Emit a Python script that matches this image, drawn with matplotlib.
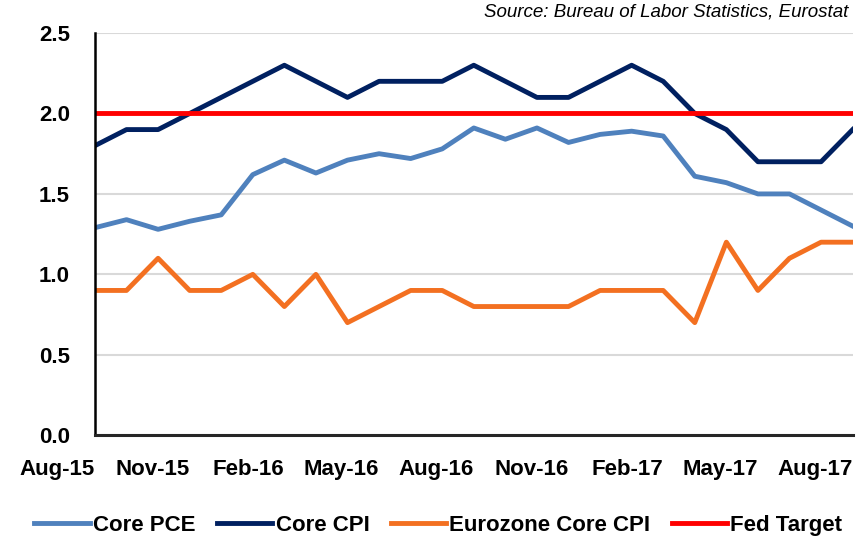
import numpy as np
import matplotlib.pyplot as plt

months = ['Aug-15', 'Sep-15', 'Oct-15', 'Nov-15', 'Dec-15', 'Jan-16', 'Feb-16',
          'Mar-16', 'Apr-16', 'May-16', 'Jun-16', 'Jul-16', 'Aug-16', 'Sep-16',
          'Oct-16', 'Nov-16', 'Dec-16', 'Jan-17', 'Feb-17', 'Mar-17', 'Apr-17',
          'May-17', 'Jun-17', 'Jul-17', 'Aug-17']

core_pce = [1.29, 1.34, 1.28, 1.33, 1.37, 1.62, 1.71, 1.63, 1.71, 1.75, 1.72,
            1.78, 1.91, 1.84, 1.91, 1.82, 1.87, 1.89, 1.86, 1.61, 1.57, 1.50,
            1.50, 1.40, 1.30]
core_cpi = [1.8, 1.9, 1.9, 2.0, 2.1, 2.2, 2.3, 2.2, 2.1, 2.2, 2.2, 2.2, 2.3,
            2.2, 2.1, 2.1, 2.2, 2.3, 2.2, 2.0, 1.9, 1.7, 1.7, 1.7, 1.9]
euro_core_cpi = [0.9, 0.9, 1.1, 0.9, 0.9, 1.0, 0.8, 1.0, 0.7, 0.8, 0.9, 0.9,
                 0.8, 0.8, 0.8, 0.8, 0.9, 0.9, 0.9, 0.7, 1.2, 0.9, 1.1, 1.2, 1.2]
fed_target = [2.0] * len(months)

x = np.arange(len(months))

fig = plt.figure(figsize=(8.63, 5.42), dpi=100)
ax = fig.add_axes([0.110, 0.197, 0.878, 0.742])

ax.plot(x, core_pce, color='#4F81BD', lw=3.5, label='Core PCE')
ax.plot(x, core_cpi, color='#002060', lw=3.5, label='Core CPI')
ax.plot(x, euro_core_cpi, color='#F37021', lw=3.5, label='Eurozone Core CPI')
ax.plot(x, fed_target, color='#FF0000', lw=3.5, label='Fed Target')

ax.set_xlim(0, len(months) - 1)
ax.set_ylim(0, 2.5)
ax.set_yticks(np.arange(0, 2.51, 0.5))
ax.set_yticklabels([f'{v:.1f}' for v in np.arange(0, 2.51, 0.5)],
                   fontsize=16, fontweight='bold', family='Liberation Sans')
ax.set_xticks(x[::3])
ax.set_xticklabels(months[::3], fontsize=16, fontweight='bold',
                   family='Liberation Sans', ha='right')

ax.tick_params(axis='y', length=0, pad=18)
ax.tick_params(axis='x', length=0, pad=17)
ax.grid(axis='y', color='#D9D9D9', lw=1.5)
ax.set_axisbelow(True)

for s in ['top', 'right']:
    ax.spines[s].set_visible(False)
ax.spines['left'].set_color('black')
ax.spines['left'].set_linewidth(1.8)
ax.spines['bottom'].set_color('#262626')
ax.spines['bottom'].set_linewidth(2.2)

fig.text(0.983, 0.978, 'Source: Bureau of Labor Statistics, Eurostat',
         ha='right', va='center', fontsize=13.5, style='italic',
         family='Liberation Sans')

fig.legend(loc='center', bbox_to_anchor=(0.508, 0.031), ncol=4, frameon=False,
           prop={'family': 'Liberation Sans', 'weight': 'bold', 'size': 16},
           handlelength=2.5, handletextpad=0.15, columnspacing=0.95)

plt.savefig('out.png', dpi=100)
